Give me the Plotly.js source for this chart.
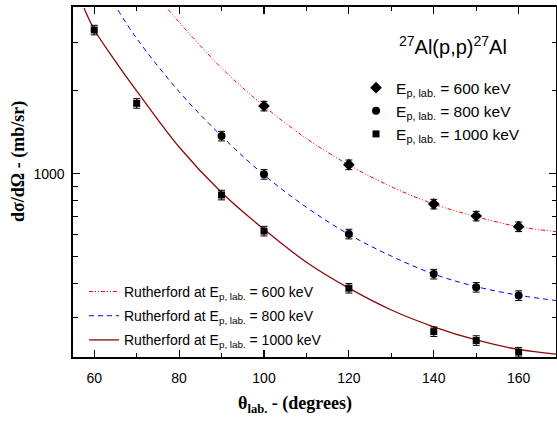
<!DOCTYPE html>
<html>
<head>
<meta charset="utf-8">
<script src="https://cdn.plot.ly/plotly-3.0.1.min.js"></script>
<style>html,body{margin:0;padding:0;background:#fff;}#chart{width:557px;height:421px;}</style>
</head>
<body>
<div id="chart"></div>
<script>
// Measured cross sections (mb/sr) vs lab angle (degrees)
const theta600 = [100, 120, 140, 150, 160];
const sigma600 = [1761, 1078, 776, 702, 642];
const theta800 = [90, 100, 120, 140, 150, 160];
const sigma800 = [1370, 995, 604, 432, 387, 361];
const theta1000 = [60, 70, 90, 100, 120, 140, 150, 160];
const sigma1000 = [3325, 1801, 837, 619, 384, 267, 248, 225];
const errPercent = 4;

// Rutherford curves
const ruthTheta600 = [77.4, 80, 90, 100, 110, 120, 130, 140, 150, 160, 169];
const ruthSigma600 = [3950, 3550, 2420, 1761, 1342, 1076, 897, 776, 698, 642, 616];
const ruthTheta800 = [65.6, 70, 80, 90, 100, 110, 120, 130, 140, 150, 160, 169];
const ruthSigma800 = [3930, 3100, 1985, 1370, 990, 755, 602, 502, 432, 389, 362, 346];
const ruthTheta1000 = [57.6, 60, 65, 70, 80, 90, 100, 110, 120, 130, 140, 150, 160, 169];
const ruthSigma1000 = [4000, 3340, 2560, 2000, 1250, 855, 628, 477, 384, 320, 278, 249, 230, 221];

const seriesNames = ["E<sub>p, lab.</sub> = 600 keV", "E<sub>p, lab.</sub> = 800 keV", "E<sub>p, lab.</sub> = 1000 keV"];
const ruthNames = ["Rutherford at E<sub>p, lab.</sub> = 600 keV", "Rutherford at E<sub>p, lab.</sub> = 800 keV", "Rutherford at E<sub>p, lab.</sub> = 1000 keV"];
const reactionTitle = "<sup>27</sup>Al(p,p)<sup>27</sup>Al";
const xTitle = "θ<sub>lab.</sub> - (degrees)";
const yTitle = "dσ/dΩ - (mb/sr)";
const yMajorTicks = [1000];
const yMinorTicks = [300, 400, 500, 600, 700, 800, 900, 2000, 3000];

const errY = {type: 'percent', value: errPercent, color: '#000', thickness: 1, width: 3.5};

const traces = [
  {x: ruthTheta600, y: ruthSigma600, mode: 'lines', name: ruthNames[0], legend: 'legend2', legendgroup: 'r600',
   line: {color: '#FF0000', width: 1, dash: '4px,2px,1px,2px,1px,2px', shape: 'spline'}},
  {x: ruthTheta800, y: ruthSigma800, mode: 'lines', name: ruthNames[1], legend: 'legend2', legendgroup: 'r800',
   line: {color: '#0000FF', width: 1, dash: '5px,4px', shape: 'spline'}},
  {x: ruthTheta1000, y: ruthSigma1000, mode: 'lines', name: ruthNames[2], legend: 'legend2', legendgroup: 'r1000',
   line: {color: '#8B0A0A', width: 1.3, shape: 'spline'}},
  {x: theta600, y: sigma600, mode: 'markers', name: seriesNames[0], legend: 'legend',
   marker: {symbol: 'diamond', size: 9, color: '#000'}, error_y: errY},
  {x: theta800, y: sigma800, mode: 'markers', name: seriesNames[1], legend: 'legend',
   marker: {symbol: 'circle', size: 8, color: '#000'}, error_y: errY},
  {x: theta1000, y: sigma1000, mode: 'markers', name: seriesNames[2], legend: 'legend',
   marker: {symbol: 'square', size: 7, color: '#000'}, error_y: errY}
];

const axisFont = {family: 'Liberation Sans, Arial, sans-serif', size: 14, color: '#000'};

const layout = {
  width: 557, height: 421,
  margin: {l: 73, r: 1, t: 7, b: 64},
  paper_bgcolor: '#fff', plot_bgcolor: '#fff',
  font: {family: 'Liberation Sans, Arial, sans-serif', color: '#000'},
  xaxis: {
    range: [55, 168.8], tickmode: 'linear', tick0: 60, dtick: 20,
    ticks: 'inside', ticklen: 7, tickwidth: 1.2, tickcolor: '#000',
    showline: true, linewidth: 1.6, linecolor: '#000', mirror: 'ticks',
    showgrid: false, zeroline: false, tickfont: axisFont, ticklabelstandoff: 8,
    minor: {tickmode: 'linear', tick0: 60, dtick: 10, ticks: 'inside', ticklen: 4, tickwidth: 1, tickcolor: '#000', showgrid: false}
  },
  yaxis: {
    type: 'log', range: [2.3344, 3.6053],
    tickmode: 'array', tickvals: yMajorTicks, ticktext: yMajorTicks.map(String),
    ticks: 'inside', ticklen: 7, tickwidth: 1.2, tickcolor: '#000',
    showline: true, linewidth: 1.6, linecolor: '#000', mirror: 'ticks',
    showgrid: false, zeroline: false, tickfont: axisFont, ticklabelstandoff: 4,
    minor: {tickmode: 'array', tickvals: yMinorTicks, ticks: 'inside', ticklen: 4.5, tickwidth: 1, tickcolor: '#000', showgrid: false}
  },
  showlegend: true,
  legend: {
    x: 0.586, y: 0.817, xanchor: 'left', yanchor: 'top',
    bgcolor: 'rgba(0,0,0,0)', borderwidth: 0,
    font: {family: 'Liberation Sans, Arial, sans-serif', size: 15.5, color: '#000'},
    traceorder: 'normal'
  },
  legend2: {
    x: 0.0228, y: 0.2317, xanchor: 'left', yanchor: 'top',
    bgcolor: 'rgba(0,0,0,0)', borderwidth: 0,
    font: {family: 'Liberation Sans, Arial, sans-serif', size: 14, color: '#000'},
    traceorder: 'grouped', tracegroupgap: 3
  },
  annotations: [
    {text: reactionTitle, xref: 'paper', yref: 'paper', x: 0.787, y: 0.889, xanchor: 'center', yanchor: 'middle',
     showarrow: false, font: {family: 'Liberation Sans, Arial, sans-serif', size: 20, color: '#000'}},
    {text: xTitle, xref: 'paper', yref: 'paper', x: 0.4596, y: -0.137, xanchor: 'center', yanchor: 'middle',
     showarrow: false, font: {family: 'Liberation Serif, Times New Roman, serif', size: 18, color: '#000', weight: 'bold'}},
    {text: yTitle, xref: 'paper', yref: 'paper', x: -0.1133, y: 0.558, xanchor: 'center', yanchor: 'middle', textangle: -90,
     showarrow: false, font: {family: 'Liberation Serif, Times New Roman, serif', size: 18, color: '#000', weight: 'bold'}}
  ]
};

Plotly.newPlot('chart', traces, layout, {staticPlot: true, displayModeBar: false});
</script>
</body>
</html>
